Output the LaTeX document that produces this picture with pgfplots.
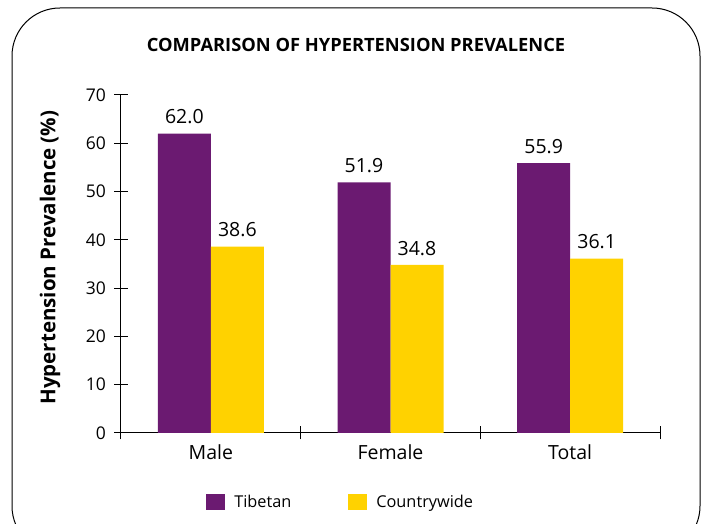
\documentclass[border=0pt]{standalone}
\usepackage{pgfplots}
\pgfplotsset{compat=1.18}
\usepackage{fontspec}
\setmainfont{Open Sans}
\definecolor{tibpurple}{HTML}{6B1A71}
\definecolor{cwyellow}{HTML}{FFD200}
\begin{document}
\begin{tikzpicture}[x=1pt,y=1pt]
\clip (0,0) rectangle (702,524);
\useasboundingbox (0,0) rectangle (702,524);
\draw[line width=1pt, rounded corners=48pt] (12,-30) rectangle (700,516);
\node[font=\bfseries\fontsize{18.3}{20}\selectfont] at (356,479) {COMPARISON OF HYPERTENSION PREVALENCE};
\begin{axis}[
  at={(121pt,91pt)}, anchor=south west,
  scale only axis, width=539pt, height=338pt,
  ybar=0pt, bar width=53pt,
  xmin=-0.5, xmax=2.5, ymin=0, ymax=70,
  axis lines=left, axis line style={-, line width=1pt},
  xtick={0,1,2}, xticklabels={Male,Female,Total},
  major x tick style={draw=none},
  minor xtick={-0.5,0.5,1.5,2.5},
  ytick={0,10,...,70},
  tick align=center, major tick length=13pt, minor tick length=13pt,
  tick style={line width=1pt, black},
  yticklabel style={font=\fontsize{17.5}{19}\selectfont, xshift=-5pt},
  xticklabel style={font=\fontsize{19.5}{21}\selectfont, yshift=-2pt},
  /pgf/number format/assume math mode=true,
  ylabel={Hypertension Prevalence (\%)},
  ylabel style={font=\bfseries\fontsize{20.5}{22}\selectfont,
    at={(axis description cs:-0.1317,0.519)}, anchor=center},
  nodes near coords,
  nodes near coords style={font=\fontsize{19.5}{21}\selectfont,
    /pgf/number format/fixed, /pgf/number format/fixed zerofill,
    /pgf/number format/precision=1, /pgf/number format/assume math mode=true,
    yshift=6pt},
  legend style={draw=none, inner sep=0pt, at={(0.1578,-0.204)}, anchor=west, legend columns=2,
    font=\fontsize{16.3}{18}\selectfont,
    /tikz/every even column/.append style={column sep=55pt}},
  legend image code/.code={\fill[#1] (0pt,-8pt) rectangle (19pt,8pt); \path (0pt,0pt) (26pt,0pt);},
]
\addplot[fill=tibpurple, draw=none] coordinates {(0,62.0) (1,51.9) (2,55.9)};
\addplot[fill=cwyellow, draw=none] coordinates {(0,38.6) (1,34.8) (2,36.1)};
\legend{Tibetan, Countrywide}
\end{axis}
\end{tikzpicture}
\end{document}
